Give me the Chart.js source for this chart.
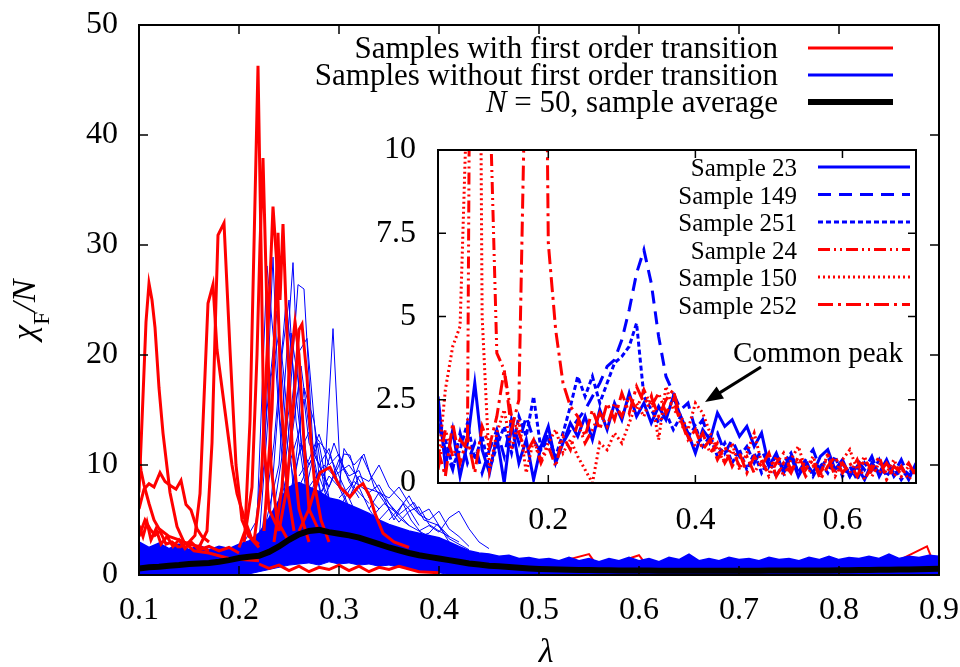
<!DOCTYPE html>
<html>
<head>
<meta charset="utf-8">
<script src="https://cdn.jsdelivr.net/npm/chart.js@4.4.0/dist/chart.umd.min.js"></script>
<style>
  html, body { margin: 0; padding: 0; background: #fff; }
  #wrap { position: relative; width: 960px; height: 667px; }
  #main { position: absolute; left: 0; top: 0; }
  #inset { position: absolute; left: 360px; top: 125px; }
</style>
</head>
<body>
<div id="wrap">
  <canvas id="main" width="960" height="667"></canvas>
  <canvas id="inset" width="570" height="425"></canvas>
</div>
<script>
// ---- main panel data ----
var xTickVals = [0.1, 0.2, 0.3, 0.4, 0.5, 0.6, 0.7, 0.8, 0.9];
var yTickVals = [0, 10, 20, 30, 40, 50];

var lamGrid = [0.10,0.11,0.12,0.13,0.14,0.15,0.16,0.17,0.18,0.19,
  0.20,0.21,0.22,0.23,0.24,0.25,0.26,0.27,0.28,0.29,
  0.30,0.31,0.32,0.33,0.34,0.35,0.36,0.37,0.38,0.39,
  0.40,0.41,0.42,0.43,0.44,0.45,0.46,0.47,0.48,0.49,
  0.50,0.51,0.52,0.53,0.54,0.55,0.56,0.57,0.58,0.59,
  0.60,0.61,0.62,0.63,0.64,0.65,0.66,0.67,0.68,0.69,
  0.70,0.71,0.72,0.73,0.74,0.75,0.76,0.77,0.78,0.79,
  0.80,0.81,0.82,0.83,0.84,0.85,0.86,0.87,0.88,0.89,0.90];

// sample average (black)
var avgY = [0.6,0.7,0.75,0.85,0.9,1.0,1.05,1.1,1.2,1.35,
  1.55,1.65,1.75,2.1,2.6,3.2,3.7,4.0,4.1,3.9,
  3.75,3.6,3.4,3.1,2.8,2.5,2.25,2.0,1.8,1.65,
  1.5,1.35,1.2,1.05,0.95,0.85,0.8,0.72,0.65,0.6,
  0.55,0.52,0.5,0.48,0.46,0.45,0.44,0.43,0.42,0.41,
  0.4,0.4,0.39,0.39,0.38,0.38,0.38,0.38,0.38,0.38,
  0.38,0.39,0.39,0.4,0.4,0.4,0.41,0.41,0.42,0.42,
  0.43,0.44,0.45,0.46,0.47,0.48,0.5,0.51,0.53,0.54,0.56];

// dense bundle of samples without transition: upper and lower edge
var bandTop = [3.0,2.5,2.9,2.4,2.8,2.3,2.7,2.3,2.6,2.4,
  2.8,3.1,3.8,5.2,6.8,8.0,8.4,8.0,7.6,7.0,
  6.8,6.4,6.0,5.6,5.0,4.6,4.3,4.0,3.8,3.6,
  3.4,3.0,2.6,2.2,2.0,1.9,1.7,1.8,1.5,1.6,
  1.4,1.5,1.3,1.6,1.3,1.5,1.2,1.5,1.3,1.6,
  1.3,1.5,1.2,1.6,1.4,1.9,1.3,1.5,1.3,1.6,
  1.4,1.5,1.3,1.6,1.4,1.5,1.3,1.6,1.4,1.7,
  1.4,1.6,1.5,1.7,1.5,1.9,1.5,1.7,1.6,1.8,1.7];
var bandLow = [0.1,0.1,0.1,0.1,0.1,0.1,0.1,0.1,0.1,0.1,
  0.1,0.1,0.3,0.5,0.7,0.9,1.0,1.1,0.9,1.2,
  1.0,1.1,0.9,1.0,0.8,0.9,0.7,0.6,0.4,0.3,
  0.2,0.05,0.05,0.05,0.05,0.05,0.05,0.05,0.05,0.05,
  0.05,0.05,0.05,0.05,0.05,0.05,0.05,0.05,0.05,0.05,
  0.05,0.05,0.05,0.05,0.05,0.05,0.05,0.05,0.05,0.05,
  0.05,0.05,0.05,0.05,0.05,0.05,0.05,0.05,0.05,0.05,
  0.05,0.05,0.05,0.05,0.05,0.05,0.05,0.05,0.05,0.05,0.05];

// individual samples without transition that stick out of the bundle
var bluePeaks = [
  [[0.2,2],[0.215,3],[0.225,10],[0.234,28.9],[0.24,15],[0.25,6],[0.27,4],[0.3,2.5]],
  [[0.2,2.2],[0.218,5],[0.228,28.1],[0.236,20],[0.245,8],[0.26,4]],
  [[0.22,2],[0.24,10],[0.254,28.4],[0.262,12],[0.275,5],[0.3,3]],
  [[0.23,3],[0.25,15],[0.259,26.4],[0.265,26],[0.275,10],[0.29,4]],
  [[0.22,2],[0.235,12],[0.247,24.8],[0.255,18],[0.27,6]],
  [[0.27,6],[0.285,8],[0.294,22.4],[0.302,8],[0.315,5]],
  [[0.23,3],[0.245,9],[0.258,20],[0.268,21.5],[0.28,9],[0.3,4]],
  [[0.24,4],[0.255,14],[0.262,19],[0.272,12],[0.285,6]],
  [[0.25,5],[0.265,17],[0.275,14],[0.285,8],[0.3,5]],
  [[0.26,6],[0.27,9],[0.278,12.4],[0.29,11],[0.3,9],[0.31,7],[0.32,5]],
  [[0.28,6],[0.295,9],[0.305,11],[0.311,10.9],[0.32,8],[0.33,6],[0.345,4]],
  [[0.3,6],[0.312,8],[0.323,10.8],[0.332,9],[0.345,7],[0.355,5],[0.364,6.5],[0.372,5],[0.385,3.5]],
  [[0.27,8],[0.285,10],[0.295,9],[0.31,10],[0.325,8],[0.34,7.5],[0.355,6],[0.37,4.5],[0.39,3.5]],
  [[0.33,5],[0.345,6.5],[0.36,5.5],[0.375,6.6],[0.385,5],[0.4,4.5],[0.41,3]],
  [[0.38,3.5],[0.39,3.8],[0.398,4.6],[0.41,3.3],[0.42,2.8],[0.43,2.3]],
  [[0.215,3],[0.228,15],[0.238,24],[0.245,18],[0.255,7],[0.27,5]],
  [[0.24,4],[0.252,22],[0.262,16],[0.27,8],[0.28,5]],
  [[0.25,6],[0.262,12],[0.27,10],[0.28,12],[0.29,7],[0.3,5]],
  [[0.22,3],[0.232,18],[0.24,22],[0.248,12],[0.26,6]],
  [[0.23,4],[0.243,20],[0.25,25],[0.257,14],[0.268,7]],
  [[0.25,7],[0.26,11],[0.27,13],[0.28,10],[0.29,11.5],[0.3,8],[0.31,6]],
  [[0.27,7],[0.28,9.5],[0.29,8],[0.3,10.5],[0.31,9],[0.32,9.5],[0.33,7],[0.34,6]],
  [[0.3,7],[0.315,8.5],[0.33,7.5],[0.34,8.2],[0.35,6.5],[0.36,5.2],[0.37,4.5]],
  [[0.34,5],[0.35,6],[0.36,4.8],[0.37,5.8],[0.38,6.2],[0.39,4.6],[0.4,4.0],[0.42,3]],
  [[0.26,8],[0.275,11],[0.285,9],[0.295,12],[0.305,9.5],[0.315,8],[0.33,6.5]],
  [[0.28,7],[0.29,9],[0.3,8],[0.305,11.5],[0.315,10],[0.325,11],[0.335,8],[0.35,6]],
  [[0.31,7],[0.32,9],[0.33,8.5],[0.34,10],[0.35,8],[0.36,7],[0.37,6],[0.38,4.5]],
  [[0.33,6],[0.34,7.5],[0.35,7],[0.36,8],[0.37,6.5],[0.38,5.5],[0.39,6],[0.4,4.5],[0.41,3.5]],
  [[0.35,5],[0.36,6],[0.37,7.2],[0.38,5.5],[0.39,5],[0.4,5.8],[0.41,4.2],[0.42,3.5],[0.43,2.6]],
  [[0.38,4],[0.39,4.5],[0.4,3.9],[0.41,5.2],[0.42,5.8],[0.43,4.2],[0.44,3.0],[0.45,2.4]],
  [[0.24,6],[0.25,10],[0.26,13],[0.265,16],[0.27,12],[0.28,10],[0.29,8]],
  [[0.26,9],[0.27,10.5],[0.28,12.8],[0.29,10],[0.3,11],[0.31,8.5],[0.32,7]]
];

// samples with a first order transition
var redPeaks = [
  [[0.1,7.5],[0.103,14],[0.107,23],[0.11,26.5],[0.113,25],[0.116,22.5],[0.12,17],[0.124,12.9],[0.131,7.5],[0.138,4.4],[0.145,3.0],[0.155,2.2],[0.17,2.0],[0.19,1.5],[0.22,1.3]],
  [[0.1,11.1],[0.102,9.5],[0.105,8.2],[0.11,6.5],[0.115,5],[0.12,4.2],[0.13,3.5],[0.14,3.2],[0.15,2.8],[0.16,2.6],[0.17,2.2]],
  [[0.1,6],[0.105,7.8],[0.11,8.3],[0.115,8.0],[0.121,9.3],[0.126,8.5],[0.132,8.1],[0.137,7.8],[0.142,8.6],[0.147,6.4],[0.152,5.9],[0.158,4.2],[0.163,3.5],[0.17,3.0]],
  [[0.14,2.5],[0.15,3.0],[0.156,3.6],[0.161,7.4],[0.165,16],[0.169,24.7],[0.174,26.4],[0.178,20.5],[0.183,17],[0.188,13.5],[0.193,10],[0.198,7.4],[0.206,5.0],[0.213,3.2],[0.22,2.5]],
  [[0.16,2.5],[0.168,4],[0.173,12],[0.177,25],[0.179,30.9],[0.185,32],[0.191,20.5],[0.197,10],[0.203,5],[0.21,3.5],[0.22,2.8]],
  [[0.2,2.5],[0.206,4],[0.211,14],[0.215,30],[0.219,46.3],[0.222,30],[0.225,12],[0.23,6],[0.24,4]],
  [[0.205,3],[0.213,8],[0.218,20],[0.221,30],[0.224,37.9],[0.228,24],[0.232,10],[0.238,5],[0.25,3]],
  [[0.215,3],[0.222,8],[0.228,20],[0.234,33.5],[0.238,28],[0.242,16],[0.248,8],[0.255,4]],
  [[0.225,4],[0.233,15],[0.239,31.1],[0.241,25],[0.244,31.9],[0.248,22],[0.253,12],[0.26,6],[0.27,3]],
  [[0.24,4],[0.248,8],[0.255,16],[0.26,22.3],[0.263,22.8],[0.268,18],[0.272,12],[0.276,8],[0.282,5],[0.29,3]],
  [[0.235,3],[0.243,8],[0.25,18],[0.256,23],[0.26,20],[0.265,12],[0.27,6],[0.28,4]],
  [[0.26,4],[0.27,6],[0.281,9.3],[0.291,9.8],[0.301,8.0],[0.311,7.1],[0.319,8.0],[0.324,8.3],[0.331,7.1],[0.336,5.6],[0.344,3.8],[0.355,3],[0.37,2.5]],
  [[0.22,1.0],[0.23,0.6],[0.24,0.9],[0.25,0.4],[0.26,0.8],[0.27,0.3],[0.28,0.7],[0.29,0.5],[0.3,0.9],[0.31,0.4],[0.32,0.8],[0.33,0.3],[0.34,0.7],[0.35,0.5],[0.36,0.8],[0.38,0.3],[0.4,0.2]],
  [[0.1,4.5],[0.104,3.5],[0.108,4.8],[0.112,3.2],[0.117,4.2],[0.122,2.8],[0.128,3.5],[0.134,2.6],[0.14,3.2],[0.146,2.4],[0.152,3.0],[0.16,2.3],[0.17,2.6],[0.18,2.2],[0.19,2.5],[0.2,2.0]],
  [[0.1,3.5],[0.106,5.0],[0.111,4.2],[0.116,3.6],[0.121,4.0],[0.127,2.8],[0.133,3.0],[0.14,2.5]]
];
// low red background that shows through the bundle only at a few spikes
var redTail = [[0.4,0.8],[0.45,0.5],[0.5,0.7],[0.55,1.9],[0.56,0.6],[0.6,1.8],[0.61,0.6],[0.7,0.8],[0.8,0.7],[0.85,0.9],[0.888,2.6],[0.895,1.0],[0.9,1.5]];

// ---- inset data ----
var insetXTicks = [0.2, 0.4, 0.6];
var insetYTicks = [0, 2.5, 5, 7.5, 10];
var insetLam = [0.05,0.06,0.07,0.08,0.09,0.10,0.11,0.12,0.13,0.14,
  0.15,0.16,0.17,0.18,0.19,0.20,0.21,0.22,0.23,0.24,
  0.25,0.26,0.27,0.28,0.29,0.30,0.31,0.32,0.33,0.34,
  0.35,0.36,0.37,0.38,0.39,0.40,0.41,0.42,0.43,0.44,
  0.45,0.46,0.47,0.48,0.49,0.50,0.51,0.52,0.53,0.54,
  0.55,0.56,0.57,0.58,0.59,0.60,0.61,0.62,0.63,0.64,
  0.65,0.66,0.67,0.68,0.69,0.70];
var sample23 = [2.6,0.5,1.6,0.2,1.2,3.0,1.0,0.3,1.4,0.0,
  1.8,0.6,1.3,0.1,1.1,1.7,0.6,1.2,1.8,1.4,
  2.0,1.3,2.2,1.6,2.4,1.9,2.7,2.0,2.4,1.8,
  2.3,1.9,2.6,2.0,1.5,0.9,1.6,1.3,2.1,1.7,
  1.9,1.4,1.7,1.1,1.5,0.5,0.9,0.3,0.8,0.2,
  0.6,0.3,0.8,1.0,0.4,0.7,0.2,0.5,0.1,0.6,
  0.3,0.7,0.2,0.5,0.1,0.6];
var sample149 = [1.8,1.0,0.4,1.5,0.6,1.2,0.3,1.0,1.6,0.8,
  1.9,1.2,2.0,1.3,0.9,1.5,0.7,1.2,1.6,1.9,
  2.2,2.6,3.0,3.5,3.7,4.3,5.2,6.3,7.0,6.0,
  4.4,3.2,2.7,2.2,2.4,1.6,1.9,1.2,1.5,0.9,
  1.3,0.8,1.1,0.6,1.0,0.5,0.8,0.4,0.9,0.3,
  0.7,1.0,0.4,0.8,0.3,0.6,0.2,0.7,0.4,0.8,
  0.2,0.6,0.3,0.7,0.2,0.5];
var sample251 = [2.0,1.3,0.5,1.0,1.8,0.7,1.4,0.4,1.1,1.7,
  0.9,2.0,1.4,2.6,1.0,1.3,0.8,1.5,2.3,3.2,
  2.6,3.2,2.4,3.0,3.6,3.8,4.1,4.8,2.6,2.2,
  1.8,2.1,1.6,2.0,1.4,1.7,1.1,1.4,0.8,1.2,
  0.6,1.0,0.4,0.9,0.3,0.7,0.2,0.6,0.9,0.3,
  0.7,0.2,0.6,0.3,0.8,0.2,0.5,0.1,0.6,0.3,
  0.7,0.2,0.5,0.1,0.4,0.3];
var sample24 = [0.4,1.6,0.8,1.3,1.0,40,40,12,3.9,3.4,
  2.0,1.5,0.9,1.3,0.6,1.1,0.5,1.4,1.0,1.8,
  1.2,1.6,2.1,1.7,2.4,2.0,2.6,2.2,2.8,2.3,
  2.7,2.1,2.5,1.8,1.4,1.1,1.5,0.9,1.2,0.6,
  1.0,0.5,0.8,0.3,0.7,0.2,0.6,0.9,0.4,0.7,
  0.2,0.5,0.3,0.8,0.2,0.6,0.3,0.7,0.1,0.5,
  0.3,0.6,0.2,0.5,0.1,0.4];
var sample150 = [0.5,2.8,4.1,4.7,12,40,5,0.4,1.5,2.2,
  1.0,1.9,0.3,1.3,0.7,1.2,1.6,0.9,1.3,0.8,
  0.4,0.0,1.2,1.0,1.5,1.2,1.8,2.4,2.0,2.6,
  1.3,2.9,2.2,2.0,1.6,2.4,2.1,1.5,1.0,0.6,
  1.2,0.4,0.9,1.5,0.6,0.3,0.8,0.2,0.7,1.1,
  0.4,0.8,0.2,0.9,0.3,0.7,1.0,0.4,0.8,0.2,
  0.6,0.3,0.7,0.2,0.5,0.3];
var sample252 = [1.0,0.2,1.8,0.6,1.4,0.3,1.7,1.1,2.0,3.4,
  1.6,2.5,14,40,30,7.2,4.6,3.0,2.3,2.0,
  1.4,2.2,1.6,2.4,1.9,2.7,2.1,2.9,2.4,2.6,
  2.0,2.5,2.8,1.9,1.3,1.6,1.0,1.3,0.7,1.1,
  0.5,0.9,0.3,0.8,0.5,0.9,0.2,0.6,0.3,0.8,
  0.4,0.7,0.1,0.5,0.8,0.3,0.6,0.2,0.7,0.4,
  0.8,0.1,0.5,0.3,0.6,0.2];
var insetNames = ['Sample 23', 'Sample 149', 'Sample 251', 'Sample 24', 'Sample 150', 'Sample 252'];
var insetSeries = [sample23, sample149, sample251, sample24, sample150, sample252];

// ---- styling ----
var SERIF = "'Liberation Serif', 'Times New Roman', serif";
var RED = '#ff0000', BLUE = '#0000ff';
var insetStyles = [
  {color: BLUE, dash: []},
  {color: BLUE, dash: [13, 8]},
  {color: BLUE, dash: [5, 3]},
  {color: RED, dash: [12, 4, 2, 4, 2, 4]},
  {color: RED, dash: [2, 3]},
  {color: RED, dash: [15, 5, 3, 5]}
];

function pts(xs, ys) {
  return xs.map(function (x, i) { return {x: x, y: ys[i]}; });
}
function pairs(list) {
  return list.map(function (p) { return {x: p[0], y: p[1]}; });
}
// keep chart area exactly where layout padding puts it
function noPad(s) {
  s.paddingLeft = 0; s.paddingRight = 0; s.paddingTop = 0; s.paddingBottom = 0;
}

function drawFrame(chart, xt, yt, len) {
  var ctx = chart.ctx, a = chart.chartArea;
  var xs = chart.scales.x, ys = chart.scales.y;
  ctx.save();
  ctx.strokeStyle = '#000';
  ctx.lineWidth = 1.5;
  ctx.setLineDash([]);
  ctx.beginPath();
  xt.forEach(function (v) {
    var p = xs.getPixelForValue(v);
    ctx.moveTo(p, a.bottom); ctx.lineTo(p, a.bottom - len);
    ctx.moveTo(p, a.top); ctx.lineTo(p, a.top + len);
  });
  yt.forEach(function (v) {
    var p = ys.getPixelForValue(v);
    ctx.moveTo(a.left, p); ctx.lineTo(a.left + len, p);
    ctx.moveTo(a.right, p); ctx.lineTo(a.right - len, p);
  });
  ctx.stroke();
  ctx.lineWidth = 2;
  ctx.strokeRect(a.left, a.top, a.right - a.left, a.bottom - a.top);
  ctx.restore();
}

// ---- main chart ----
var mainSets = [];
mainSets.push({data: pts(lamGrid, avgY), borderColor: '#000', borderWidth: 6, order: 0});
redPeaks.forEach(function (r) {
  mainSets.push({data: pairs(r), borderColor: RED, borderWidth: 3, order: 1});
});
bluePeaks.forEach(function (b) {
  mainSets.push({data: pairs(b), borderColor: BLUE, borderWidth: 1, order: 2});
});
mainSets.push({data: pts(lamGrid, bandTop), borderColor: BLUE, borderWidth: 1.5, backgroundColor: BLUE, fill: '+1', order: 3});
mainSets.push({data: pts(lamGrid, bandLow), borderColor: BLUE, borderWidth: 1, order: 3});
mainSets.push({data: pairs(redTail), borderColor: RED, borderWidth: 2, order: 4});

var mainDeco = {
  id: 'mainDeco',
  afterDatasetsDraw: function (chart) {
    drawFrame(chart, xTickVals, yTickVals, 9);
  },
  afterDraw: function (chart) {
    var ctx = chart.ctx;
    ctx.save();
    ctx.fillStyle = '#000';
    ctx.textBaseline = 'alphabetic';
    // legend (text right-aligned, sample line on the right)
    var rows = [
      {parts: [['', 'Samples with first order transition']], color: RED, lw: 3, base: 58},
      {parts: [['', 'Samples without first order transition']], color: BLUE, lw: 3, base: 85},
      {parts: [['italic ', 'N'], ['', ' = 50, sample average']], color: '#000', lw: 6, base: 112}
    ];
    rows.forEach(function (r) {
      var w = 0;
      r.parts.forEach(function (p) { ctx.font = p[0] + '31px ' + SERIF; w += ctx.measureText(p[1]).width; });
      var x = 778 - w;
      r.parts.forEach(function (p) {
        ctx.font = p[0] + '31px ' + SERIF;
        ctx.fillText(p[1], x, r.base);
        x += ctx.measureText(p[1]).width;
      });
      ctx.strokeStyle = r.color;
      ctx.lineWidth = r.lw;
      ctx.beginPath();
      ctx.moveTo(808, r.base - 10);
      ctx.lineTo(893, r.base - 10);
      ctx.stroke();
    });
    // x title
    ctx.font = 'italic 34px ' + SERIF;
    ctx.textAlign = 'center';
    ctx.fillText('\u03bb', 546, 662);
    // y title, rotated
    ctx.translate(35, 340);
    ctx.rotate(-Math.PI / 2);
    ctx.textAlign = 'left';
    var x = 0;
    ctx.font = 'italic 34px ' + SERIF;
    ctx.fillText('\u03c7', x, 0);
    x += ctx.measureText('\u03c7').width;
    ctx.font = '24px ' + SERIF;
    ctx.fillText('F', x, 14);
    x += ctx.measureText('F').width;
    ctx.font = 'italic 34px ' + SERIF;
    ctx.fillText('/N', x, 0);
    ctx.restore();
  }
};

new Chart(document.getElementById('main'), {
  type: 'line',
  data: {datasets: mainSets},
  plugins: [mainDeco],
  options: {
    responsive: false,
    animation: false,
    devicePixelRatio: 1,
    layout: {padding: {left: 0, top: 25, right: 21, bottom: 0}},
    elements: {point: {radius: 0}, line: {tension: 0}},
    plugins: {legend: {display: false}, tooltip: {enabled: false}, title: {display: false}},
    scales: {
      x: {
        type: 'linear', min: 0.1, max: 0.9,
        grid: {display: false, drawTicks: false},
        border: {display: false},
        afterBuildTicks: function (s) { s.ticks = xTickVals.map(function (v) { return {value: v}; }); },
        afterFit: function (s) { s.height = 92; noPad(s); },
        ticks: {color: '#000', padding: 16, maxRotation: 0, autoSkip: false,
          font: {family: SERIF, size: 32},
          callback: function (v) { return v.toFixed(1); }}
      },
      y: {
        type: 'linear', min: 0, max: 50,
        grid: {display: false, drawTicks: false},
        border: {display: false},
        afterBuildTicks: function (s) { s.ticks = yTickVals.map(function (v) { return {value: v}; }); },
        afterFit: function (s) { s.width = 139; noPad(s); },
        ticks: {color: '#000', padding: 21, font: {family: SERIF, size: 32}}
      }
    }
  }
});

// ---- inset chart ----
var insetSets = insetSeries.map(function (ys, i) {
  return {data: pts(insetLam, ys), borderColor: insetStyles[i].color, borderWidth: 3,
    borderDash: insetStyles[i].dash, order: 6 - i};
});

var insetDeco = {
  id: 'insetDeco',
  beforeDraw: function (chart) {
    var a = chart.chartArea, ctx = chart.ctx;
    ctx.save();
    ctx.fillStyle = '#fff';
    ctx.fillRect(a.left, a.top, a.right - a.left, a.bottom - a.top);
    ctx.restore();
  },
  afterDatasetsDraw: function (chart) {
    drawFrame(chart, insetXTicks, insetYTicks, 8);
  },
  afterDraw: function (chart) {
    var ctx = chart.ctx;
    var ox = 360, oy = 125; // canvas offset on the page
    ctx.save();
    ctx.translate(-ox, -oy);
    ctx.fillStyle = '#000';
    ctx.textBaseline = 'alphabetic';
    ctx.textAlign = 'right';
    ctx.font = '25px ' + SERIF;
    insetNames.forEach(function (name, i) {
      var base = 176 + i * 27.5;
      ctx.fillText(name, 797, base);
      ctx.strokeStyle = insetStyles[i].color;
      ctx.lineWidth = 3;
      ctx.setLineDash(insetStyles[i].dash);
      ctx.beginPath();
      ctx.moveTo(818, base - 9);
      ctx.lineTo(910, base - 9);
      ctx.stroke();
    });
    ctx.setLineDash([]);
    // annotation
    ctx.textAlign = 'left';
    ctx.font = '29px ' + SERIF;
    ctx.fillText('Common peak', 733, 362);
    var x0 = 761, y0 = 367, x1 = 705, y1 = 402;
    var ang = Math.atan2(y1 - y0, x1 - x0);
    ctx.strokeStyle = '#000';
    ctx.lineWidth = 3;
    ctx.beginPath();
    ctx.moveTo(x0, y0);
    ctx.lineTo(x1 - 12 * Math.cos(ang), y1 - 12 * Math.sin(ang));
    ctx.stroke();
    ctx.beginPath();
    ctx.moveTo(x1, y1);
    ctx.lineTo(x1 - 18 * Math.cos(ang) + 7 * Math.sin(ang), y1 - 18 * Math.sin(ang) - 7 * Math.cos(ang));
    ctx.lineTo(x1 - 18 * Math.cos(ang) - 7 * Math.sin(ang), y1 - 18 * Math.sin(ang) + 7 * Math.cos(ang));
    ctx.closePath();
    ctx.fillStyle = '#000';
    ctx.fill();
    ctx.restore();
  }
};

new Chart(document.getElementById('inset'), {
  type: 'line',
  data: {datasets: insetSets},
  plugins: [insetDeco],
  options: {
    responsive: false,
    animation: false,
    devicePixelRatio: 1,
    layout: {padding: {left: 0, top: 25, right: 14, bottom: 0}},
    elements: {point: {radius: 0}, line: {tension: 0}},
    plugins: {legend: {display: false}, tooltip: {enabled: false}, title: {display: false}},
    scales: {
      x: {
        type: 'linear', min: 0.05, max: 0.7,
        grid: {display: false, drawTicks: false},
        border: {display: false},
        afterBuildTicks: function (s) { s.ticks = insetXTicks.map(function (v) { return {value: v}; }); },
        afterFit: function (s) { s.height = 67; noPad(s); },
        ticks: {color: '#000', padding: 18, maxRotation: 0, autoSkip: false,
          font: {family: SERIF, size: 32},
          callback: function (v) { return v.toFixed(1); }}
      },
      y: {
        type: 'linear', min: 0, max: 10,
        grid: {display: false, drawTicks: false},
        border: {display: false},
        afterBuildTicks: function (s) { s.ticks = insetYTicks.map(function (v) { return {value: v}; }); },
        afterFit: function (s) { s.width = 78; noPad(s); },
        ticks: {color: '#000', padding: 22, font: {family: SERIF, size: 32},
          callback: function (v) { return String(v); }}
      }
    }
  }
});
</script>
</body>
</html>
